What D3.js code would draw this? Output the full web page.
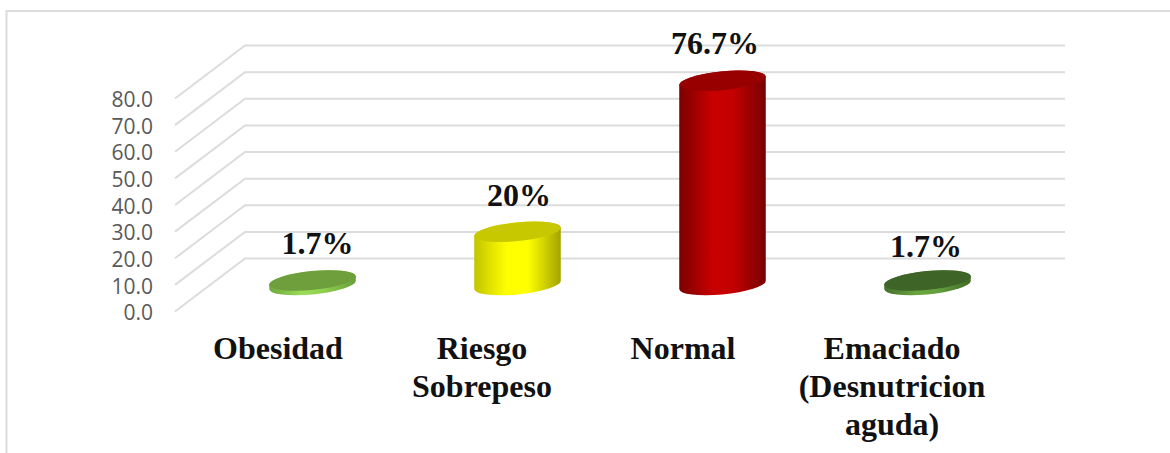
<!DOCTYPE html>
<html>
<head>
<meta charset="utf-8">
<script src="https://cdnjs.cloudflare.com/ajax/libs/d3/7.8.5/d3.min.js"></script>
<style>
html, body { margin: 0; padding: 0; background: #fff; }
svg { display: block; }
</style>
</head>
<body>
<div id="chart"></div>
<script>
var width = 1170;
var height = 453;

var categories = ['Obesidad', 'Riesgo Sobrepeso', 'Normal', 'Emaciado (Desnutricion aguda)'];
var categoryLines = [['Obesidad'], ['Riesgo', 'Sobrepeso'], ['Normal'], ['Emaciado', '(Desnutricion', 'aguda)']];
var values = [1.7, 20, 76.7, 1.7];
var valueLabels = ['1.7%', '20%', '76.7%', '1.7%'];
var ticks = [0, 10, 20, 30, 40, 50, 60, 70, 80];

var topColors = ['#6f9f3c', '#c8c800', '#980000', '#3f6427'];
var sideColors = [
	['#6fa83e', '#9bdc58', '#8fd050', '#6a9f3a'],
	['#c4c400', '#ffff00', '#ffff00', '#a3a300'],
	['#7c0000', '#c80000', '#c40000', '#770000'],
	['#44702a', '#6aa63f', '#64a03c', '#3f6a27']
];

// the floor sits depth pixels behind the front edge of the plot
var depthX = 70;
var depthY = 53;
var tilt = -5.7;
var minorAxis = 9.4;

var canvas = d3.select('#chart')
	.append('svg')
	.attr('width', width)
	.attr('height', height);

var defs = canvas.append('defs');

// outer frame, cut by the window on the right and at the bottom
canvas.append('path')
	.attr('d', 'M6.5,' + height + 'V11H' + width)
	.attr('fill', 'none')
	.attr('stroke', '#dcdcdc')
	.attr('stroke-width', 2);

var yScale = d3.scaleLinear().domain([0, 80]).range([311.5, 98.5]);
var xScale = d3.scaleBand()
	.domain(categories)
	.range([210, 1030])
	.paddingInner(0.576)
	.paddingOuter(0.288);

// grid: side wall going back, then along the back wall
canvas.append('g')
	.selectAll('path')
	.data(ticks)
	.enter()
	.append('path')
	.attr('d', function(d){
		var y = yScale(d);
		return 'M175,' + y + 'L' + (175 + depthX) + ',' + (y - depthY) + 'H1065';
	})
	.attr('fill', 'none')
	.attr('stroke', '#dcdcdc')
	.attr('stroke-width', 2);

var yAxis = d3.axisLeft(yScale)
	.tickValues(ticks)
	.tickSize(0)
	.tickPadding(0)
	.tickFormat(d3.format('.1f'));

var axisGroup = canvas.append('g')
	.attr('transform', 'translate(153,1.5)')
	.call(yAxis);
axisGroup.select('.domain').remove();
axisGroup.selectAll('text')
	.style('font-family', '"Open Sans", sans-serif')
	.style('font-size', '21px')
	.attr('fill', '#595959');

// horizontal shading of each cylinder
categories.forEach(function(c, i){
	var grad = defs.append('linearGradient')
		.attr('id', 'side' + i)
		.attr('x1', 0).attr('x2', 1)
		.attr('y1', 0).attr('y2', 0);
	[0, 0.38, 0.62, 1].forEach(function(o, j){
		grad.append('stop').attr('offset', o).attr('stop-color', sideColors[i][j]);
	});
});

function sidePath(cx, yBase, yTop, a){
	var rad = tilt * Math.PI / 180;
	var s = Math.sin(rad), c = Math.cos(rad);
	var w = Math.sqrt(a * a * c * c + minorAxis * minorAxis * s * s);
	var lift = (a * a - minorAxis * minorAxis) * Math.abs(s * c) / w;
	var arc = 'A' + a + ',' + minorAxis + ' ' + tilt + ' 0 ';
	return 'M' + (cx - w) + ',' + (yBase + lift)
		+ arc + '0 ' + (cx + w) + ',' + (yBase - lift)
		+ 'L' + (cx + w) + ',' + (yTop - lift)
		+ arc + '0 ' + (cx - w) + ',' + (yTop + lift) + 'Z';
}

var bars = canvas.append('g')
	.selectAll('g')
	.data(values)
	.enter()
	.append('g');

function centerX(i){
	return xScale(categories[i]) + xScale.bandwidth() / 2;
}

bars.append('path')
	.attr('d', function(d, i){
		return sidePath(centerX(i), yScale(0) - depthY / 2, yScale(d) - depthY / 2, xScale.bandwidth() / 2);
	})
	.attr('fill', function(d, i){ return 'url(#side' + i + ')'; });

bars.append('ellipse')
	.attr('rx', xScale.bandwidth() / 2)
	.attr('ry', minorAxis)
	.attr('transform', function(d, i){
		return 'translate(' + centerX(i) + ',' + (yScale(d) - depthY / 2) + ')rotate(' + tilt + ')';
	})
	.attr('fill', function(d, i){ return topColors[i]; });

// values above the bars, small per-bar nudges keep them clear of the grid
var nudgeX = [5, 1.5, -7.5, -1.5];
var nudgeY = [0, 0, -1, 3];

canvas.append('g')
	.selectAll('text')
	.data(values)
	.enter()
	.append('text')
	.text(function(d, i){ return valueLabels[i]; })
	.attr('x', function(d, i){ return centerX(i) + nudgeX[i]; })
	.attr('y', function(d, i){ return yScale(d) - depthY / 2 - 26 + nudgeY[i]; })
	.attr('text-anchor', 'middle')
	.style('font-family', '"Liberation Serif", serif')
	.style('font-weight', 'bold')
	.style('font-size', '32px')
	.attr('fill', '#111');

// category names under the floor
var labelX = [278, 482, 683, 892];
canvas.append('g')
	.selectAll('text')
	.data(categoryLines)
	.enter()
	.append('text')
	.attr('text-anchor', 'middle')
	.style('font-family', '"Liberation Serif", serif')
	.style('font-weight', 'bold')
	.style('font-size', '32px')
	.attr('fill', '#111')
	.each(function(lines, i){
		d3.select(this).selectAll('tspan')
			.data(lines)
			.enter()
			.append('tspan')
			.attr('x', labelX[i])
			.attr('y', function(l, j){ return 359 + j * 38; })
			.text(function(l){ return l; });
	});
</script>
</body>
</html>
